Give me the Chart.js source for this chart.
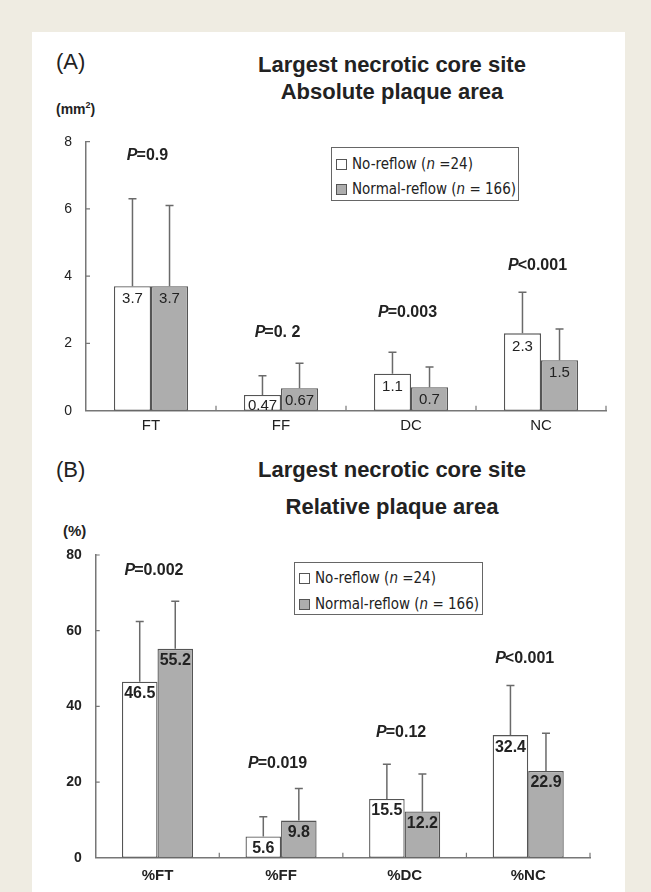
<!DOCTYPE html>
<html>
<head>
<meta charset="utf-8">
<script src="https://cdn.jsdelivr.net/npm/chart.js@4"></script>
<style>
  html, body { margin:0; padding:0; }
  body { width:651px; height:892px; background:#efece2; position:relative; overflow:hidden;
         font-family:"Liberation Sans", Arial, sans-serif; color:#222; }
  #panel { position:absolute; left:32px; top:32px; width:593px; height:870px; background:#fff; }
  canvas { position:absolute; left:0; }
  .txt { position:absolute; white-space:nowrap; }
  .title { font-weight:bold; font-size:22px; line-height:22px; text-align:center; width:400px; left:192px; }
  .tag { font-size:22px; line-height:22px; left:56px; }
  .unit { font-weight:bold; font-size:14px; line-height:14px; }
  .legend { position:absolute; border:1.2px solid #666; background:#fff; box-sizing:border-box;
            font-family:"Liberation Sans Narrow","Arial Narrow","DejaVu Sans Condensed",sans-serif; font-size:15px; color:#222; }
  .row { position:absolute; left:4px; height:16px; line-height:16px; white-space:nowrap; }
  .sw { display:inline-block; width:9px; height:9px; border:1px solid #555; margin-right:5px; vertical-align:-1px; }
</style>
</head>
<body>
<div id="panel"></div>

<div class="txt tag" style="top:51px;">(A)</div>
<div class="txt title" style="top:54px;">Largest necrotic core site</div>
<div class="txt title" style="top:81px;">Absolute plaque area</div>
<div class="txt unit" style="left:56px;top:102px;">(mm<sup style="font-size:9px;line-height:0;">2</sup>)</div>

<div class="txt tag" style="top:459px;">(B)</div>
<div class="txt title" style="top:459px;">Largest necrotic core site</div>
<div class="txt title" style="top:496px;">Relative plaque area</div>
<div class="txt unit" style="left:63px;top:523px;font-size:15px;line-height:15px;">(%)</div>

<canvas id="c1" width="651" height="450" style="top:0px;"></canvas>
<canvas id="c2" width="651" height="442" style="top:450px;"></canvas>

<div class="legend" style="left:331px;top:147px;width:188px;height:54px;">
  <div class="row" style="top:8px;"><span class="sw" style="background:#fff;"></span>No-reflow (<i>n</i> =24)</div>
  <div class="row" style="top:33px;"><span class="sw" style="background:#adadad;"></span>Normal-reflow (<i>n</i> = 166)</div>
</div>
<div class="legend" style="left:294px;top:562px;width:189px;height:53px;">
  <div class="row" style="top:7px;"><span class="sw" style="background:#fff;"></span>No-reflow (<i>n</i> =24)</div>
  <div class="row" style="top:33px;"><span class="sw" style="background:#adadad;"></span>Normal-reflow (<i>n</i> = 166)</div>
</div>

<script>
// ---------- Panel A: absolute plaque area (mm2) ----------
const catsA = ['FT', 'FF', 'DC', 'NC'];
const noReflowA = [3.7, 0.47, 1.1, 2.3];
const noReflowSdA = [2.6, 0.57, 0.64, 1.22];
const normalA = [3.7, 0.67, 0.7, 1.5];
const normalSdA = [2.4, 0.74, 0.6, 0.93];
const pTextA = ['P=0.9', 'P=0. 2', 'P=0.003', 'P<0.001'];
const pAtA = [7.6, 2.32, 2.92, 4.31];
const yTicksA = [0, 2, 4, 6, 8];

// ---------- Panel B: relative plaque area (%) ----------
const catsB = ['%FT', '%FF', '%DC', '%NC'];
const noReflowB = [46.5, 5.6, 15.5, 32.4];
const noReflowSdB = [15.9, 5.2, 9.2, 13.1];
const normalB = [55.2, 9.8, 12.2, 22.9];
const normalSdB = [12.6, 8.5, 9.9, 10.0];
const pTextB = ['P=0.002', 'P=0.019', 'P=0.12', 'P<0.001'];
const pAtB = [75.8, 24.8, 33.0, 52.6];
const yTicksB = [0, 20, 40, 60, 80];

const FONT = '"Liberation Sans", Arial, sans-serif';
const AXIS = '#777';

function annotPlugin(sds, pText, pAt, yTicks, valFont, valOffset) {
  return {
    id: 'annot',
    afterDatasetsDraw(chart) {
      const ctx = chart.ctx;
      const xs = chart.scales.x, ys = chart.scales.y;
      ctx.save();
      // error bars + value labels
      chart.data.datasets.forEach((ds, di) => {
        const meta = chart.getDatasetMeta(di);
        meta.data.forEach((el, i) => {
          const v = ds.data[i];
          const top = ys.getPixelForValue(v + sds[di][i]);
          ctx.strokeStyle = '#6a6a6a';
          ctx.lineWidth = 1.5;
          ctx.beginPath();
          ctx.moveTo(el.x, el.y);
          ctx.lineTo(el.x, top);
          ctx.moveTo(el.x - 4, top);
          ctx.lineTo(el.x + 4, top);
          ctx.stroke();
          ctx.fillStyle = '#222';
          ctx.font = valFont;
          ctx.textAlign = 'center';
          ctx.textBaseline = 'middle';
          const ly = Math.min(el.y + valOffset, ys.bottom - 5);
          ctx.fillText(String(v), el.x, ly);
        });
      });
      // P value labels
      pText.forEach((t, i) => {
        const cx = xs.getPixelForValue(i) - 3;
        const cy = ys.getPixelForValue(pAt[i]);
        ctx.textBaseline = 'middle';
        ctx.textAlign = 'left';
        const f1 = 'italic bold 16px ' + FONT, f2 = 'bold 16px ' + FONT;
        ctx.font = f1; const w1 = ctx.measureText(t[0]).width;
        ctx.font = f2; const w2 = ctx.measureText(t.slice(1)).width;
        const x0 = cx - (w1 + w2) / 2;
        ctx.fillStyle = '#222';
        ctx.font = f1; ctx.fillText(t[0], x0, cy);
        ctx.font = f2; ctx.fillText(t.slice(1), x0 + w1 - 1, cy);
      });
      // inward tick marks
      ctx.strokeStyle = AXIS;
      ctx.lineWidth = 1.2;
      ctx.beginPath();
      yTicks.forEach(tv => {
        if (tv === 0) return;
        const y = ys.getPixelForValue(tv);
        ctx.moveTo(ys.right, y); ctx.lineTo(ys.right + 4, y);
      });
      const n = chart.data.labels.length;
      for (let k = 1; k <= n; k++) {
        const x = k < n ? (xs.getPixelForValue(k - 1) + xs.getPixelForValue(k)) / 2 : xs.right;
        ctx.moveTo(x, xs.top); ctx.lineTo(x, xs.top - 5);
      }
      ctx.stroke();
      ctx.restore();
    }
  };
}

function makeChart(id, cats, a, b, sds, pText, pAt, yTicks, opts) {
  return new Chart(document.getElementById(id), {
    type: 'bar',
    data: {
      labels: cats,
      datasets: [
        { label: 'No-reflow', data: a, backgroundColor: '#ffffff', borderColor: '#555', borderWidth: 1.3, borderSkipped: false,
          categoryPercentage: opts.catPct, barPercentage: 1.0 },
        { label: 'Normal-reflow', data: b, backgroundColor: '#adadad', borderColor: '#555', borderWidth: 1.3, borderSkipped: false,
          categoryPercentage: opts.catPct, barPercentage: 1.0 }
      ]
    },
    options: {
      responsive: false, animation: false, devicePixelRatio: 1,
      layout: { padding: { left: 0, right: opts.padRight, top: opts.padTop, bottom: 0 } },
      plugins: { legend: { display: false }, tooltip: { enabled: false } },
      scales: {
        x: {
          grid: { display: false, drawTicks: false },
          border: { display: true, color: AXIS, width: 1.5 },
          ticks: { color: '#222', font: { family: FONT, size: 15, weight: opts.bold ? 'bold' : 'normal' }, padding: opts.xPad },
          afterFit: s => { s.height = opts.xHeight; }
        },
        y: {
          min: yTicks[0], max: yTicks[yTicks.length - 1],
          afterBuildTicks: s => { s.ticks = yTicks.map(v => ({ value: v })); },
          grid: { display: false, drawTicks: false },
          border: { display: true, color: AXIS, width: 1.5 },
          ticks: { color: '#222', font: { family: FONT, size: 14, weight: opts.bold ? 'bold' : 'normal' }, padding: opts.yPad },
          afterFit: s => { s.width = opts.yWidth; }
        }
      }
    },
    plugins: [annotPlugin(sds, pText, pAt, yTicks, opts.valFont, opts.valOffset)]
  });
}

makeChart('c1', catsA, noReflowA, normalA, [noReflowSdA, normalSdA], pTextA, pAtA, yTicksA, {
  catPct: 0.57, padRight: 45, padTop: 141.7, xHeight: 39.3, yWidth: 86, xPad: 6, yPad: 14,
  bold: false, valFont: '15px ' + FONT, valOffset: 13
});
makeChart('c2', catsB, noReflowB, normalB, [noReflowSdB, normalSdB], pTextB, pAtB, yTicksB, {
  catPct: 0.575, padRight: 61, padTop: 105, xHeight: 34.3, yWidth: 95.7, xPad: 9, yPad: 14,
  bold: true, valFont: 'bold 16px ' + FONT, valOffset: 12
});
</script>
</body>
</html>
